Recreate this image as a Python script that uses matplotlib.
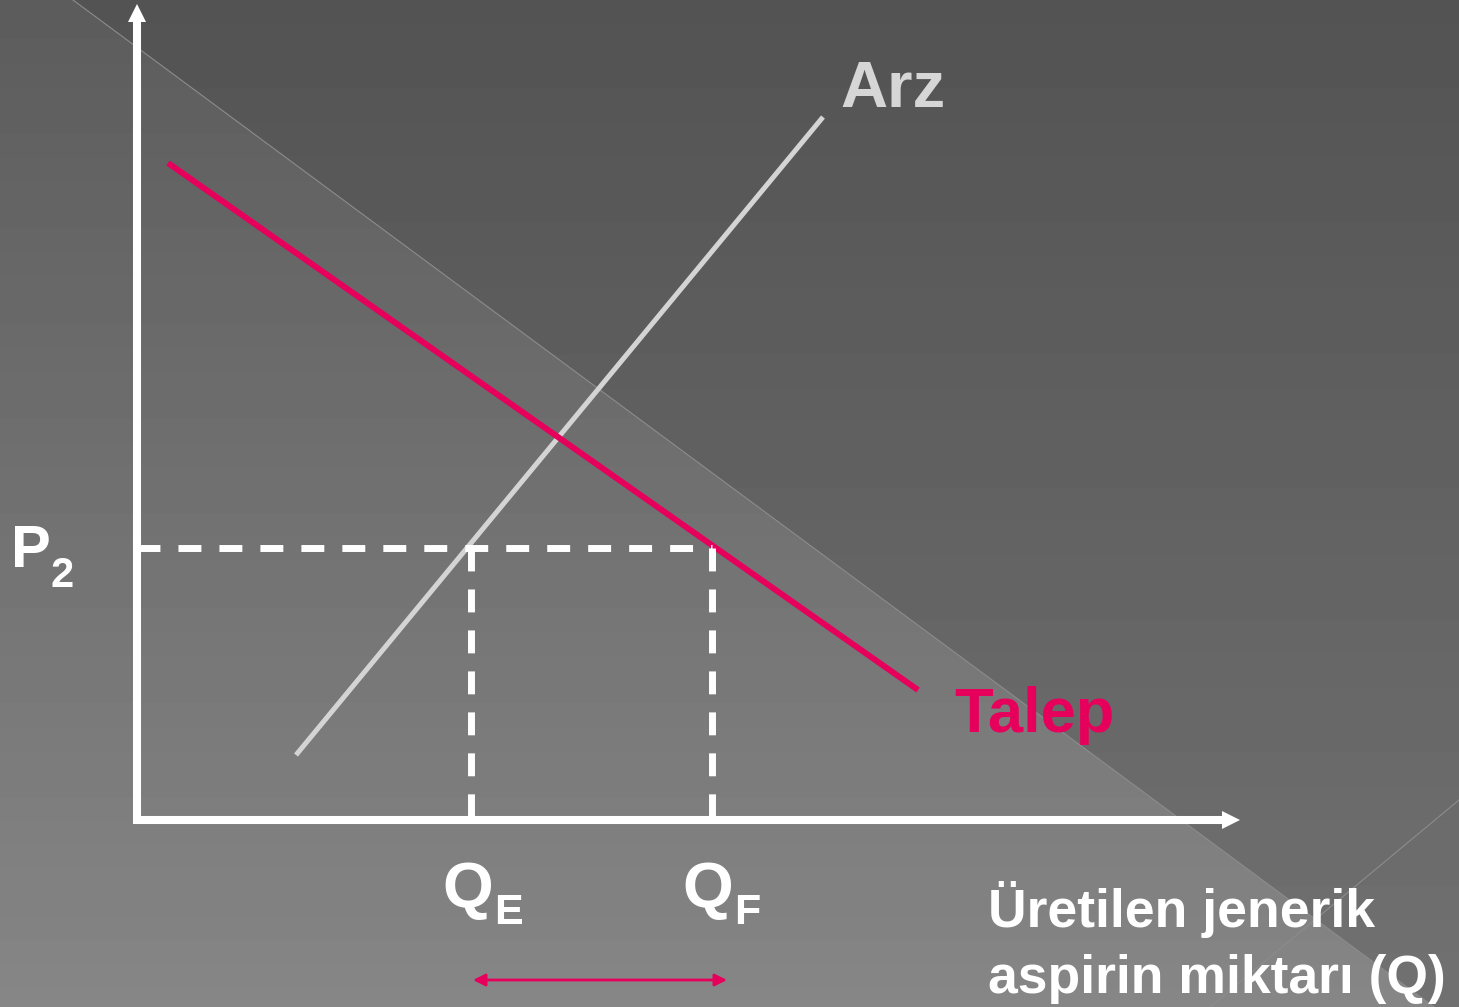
import numpy as np
import matplotlib
matplotlib.use("Agg")
import matplotlib.pyplot as plt

# supply / demand diagram values (economic units)
p2 = 2.72
q_e = 3.34
q_f = 5.75
supply_q = [1.59, 6.86]
supply_p = [0.65, 7.03]
demand_q = [0.31, 7.81]
demand_p = [6.57, 1.30]
y_axis_top = 8.16
x_axis_end = 11.03

labels = {"supply": "Arz", "demand": "Talep", "price": "P", "price_sub": "2",
          "qe": "Q", "qe_sub": "E", "qf": "Q", "qf_sub": "F"}
x_title = ["Üretilen jenerik", "aspirin miktarı (Q)"]

pink = "#e6005c"
light = "#d4d4d4"
font = "Liberation Sans"

W, H = 1459, 1007
fig = plt.figure(figsize=(W / 100, H / 100), dpi=100)
ax = fig.add_axes([0, 0, 1, 1])
xlim = (-1.37, 13.22)
ylim = (-1.87, 8.20)
ax.set_xlim(xlim)
ax.set_ylim(ylim)
ax.axis("off")

# gradient background with lighter diagonal band
yy, xx = np.mgrid[0:H, 0:W].astype(float)
below = yy > 0.74 * (xx - 73)
bg = np.where(below, 92 + 0.042 * yy, 83 + 0.03 * yy)
ax.imshow(bg, cmap="gray", vmin=0, vmax=255, extent=(*xlim, *ylim),
          origin="upper", aspect="auto", zorder=0, interpolation="bilinear")
ax.plot([73 / W, 1434 / W], [1, 0], color="#8c8c8c", lw=0.8, transform=ax.transAxes, zorder=1)
ax.plot([1459 / W, 1210 / W], [1 - 800 / H, 0], color="#8c8c8c", lw=0.8, transform=ax.transAxes, zorder=1)

# axes with arrow heads
ax.plot([0, 0], [-0.04, y_axis_top - 0.14], color="white", lw=5.8, solid_capstyle="butt", zorder=5)
ax.plot([0], [y_axis_top - 0.09], marker="^", ms=13.3, mew=0, color="white", zorder=5)
ax.plot([-0.04, x_axis_end - 0.14], [0, 0], color="white", lw=5.8, solid_capstyle="butt", zorder=5)
ax.plot([x_axis_end - 0.09], [0], marker=">", ms=13.3, mew=0, color="white", zorder=5)

# supply and demand
ax.plot(supply_q, supply_p, color=light, lw=3.6, solid_capstyle="butt", zorder=3)
ax.plot(demand_q, demand_p, color=pink, lw=4.3, solid_capstyle="butt", zorder=3)

# dashed guides
dash = (0, (3.3, 2.6))
ax.plot([0, q_f], [p2, p2], color="white", lw=5, ls=dash, dash_capstyle="butt", zorder=4)
ax.plot([q_e, q_e], [p2, 0], color="white", lw=5, ls=dash, dash_capstyle="butt", zorder=4)
ax.plot([q_f, q_f], [p2, 0], color="white", lw=5, ls=dash, dash_capstyle="butt", zorder=4)

# labels
bold = dict(fontfamily=font, fontweight="bold", ha="left", va="baseline", zorder=6)
ax.text(-1.26, p2 - 0.19, labels["price"], color="white", fontsize=43, **bold)
ax.text(-0.87, p2 - 0.39, labels["price_sub"], color="white", fontsize=30, **bold)
ax.text(q_e - 0.29, -0.88, labels["qe"], color="white", fontsize=47, **bold)
ax.text(q_e + 0.23, -1.04, labels["qe_sub"], color="white", fontsize=31, **bold)
ax.text(q_f - 0.30, -0.88, labels["qf"], color="white", fontsize=47, **bold)
ax.text(q_f + 0.22, -1.04, labels["qf_sub"], color="white", fontsize=31, **bold)
ax.text(supply_q[1] + 0.17, supply_p[1] + 0.10, labels["supply"], color="#d6d6d6", fontsize=47, **bold)
ax.text(demand_q[1] + 0.36, demand_p[1] - 0.42, labels["demand"], color=pink, fontsize=45.5, **bold)
ax.text(8.51, -1.07, x_title[0], color="white", fontsize=38.5, **bold)
ax.text(8.51, -1.73, x_title[1], color="white", fontsize=38.5, **bold)

# change in quantity arrow
ax.annotate("", xy=(q_f + 0.15, -1.60), xytext=(q_e + 0.02, -1.60),
            arrowprops=dict(arrowstyle="<|-|>,head_length=0.6,head_width=0.3",
                            mutation_scale=12, color=pink, lw=2,
                            shrinkA=0, shrinkB=0), zorder=6)

fig.savefig("out.png", dpi=100)
